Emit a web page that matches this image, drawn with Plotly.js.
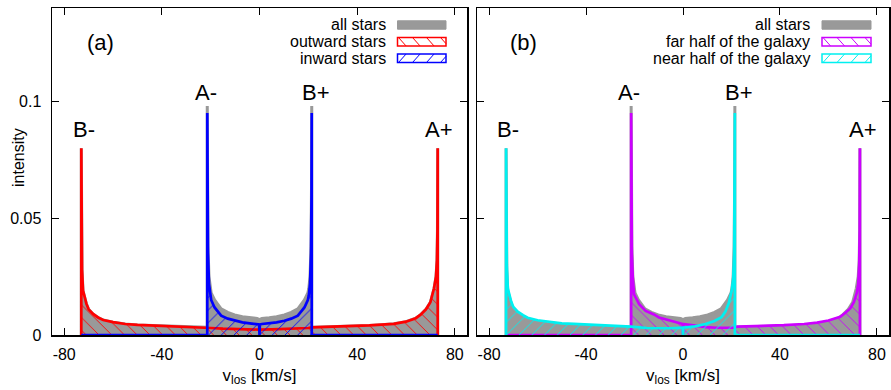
<!DOCTYPE html>
<html>
<head>
<meta charset="utf-8">
<script src="https://cdn.plot.ly/plotly-3.0.1.min.js"></script>
<style>
html,body{margin:0;padding:0;background:#fff;}
#chart{width:891px;height:390px;}
</style>
</head>
<body>
<div id="chart"></div>
<script>
// ---------- data ----------
const xTickVals = [-80, -40, 0, 40, 80];
const xTickText = ['-80', '-40', '0', '40', '80'];
const yTickVals = [0, 0.05, 0.1];
const yTickText = ['0', '0.05', '0.1'];

// panel (a): all stars
const vAll = [-73, -73, -72.9, -72.7, -72.3, -71.5, -70.9, -70, -68.2, -66, -64, -60, -55, -50, -45, -40, -35, -30, -25, -21.4,
  -21.4, -21.3, -21.1, -20.7, -20.2, -19.8, -18.4, -17, -15.7, -13, -10.2, -7, -4, -1, 0, 1, 4, 7, 10.2, 13, 15.7, 17, 18.4, 19.8, 20.2, 20.7, 21.1, 21.3, 21.4,
  21.4, 25, 30, 35, 40, 45, 50, 55, 60, 64, 66, 68.2, 70, 70.9, 71.5, 72.3, 72.7, 72.9, 73, 73];
const allStars = [0, 0.080, 0.045, 0.028, 0.019, 0.015, 0.0133, 0.011, 0.009, 0.0074, 0.0064, 0.0055, 0.0047, 0.0043, 0.0041, 0.0039, 0.0037, 0.0035, 0.0034, 0.0033,
  0.098, 0.063, 0.038, 0.025, 0.020, 0.018, 0.0150, 0.0128, 0.0112, 0.0097, 0.0086, 0.0078, 0.0074, 0.0071, 0.0066, 0.0071, 0.0074, 0.0078, 0.0086, 0.0097, 0.0112, 0.0128, 0.0150, 0.018, 0.020, 0.025, 0.038, 0.063, 0.098,
  0.0033, 0.0034, 0.0035, 0.0037, 0.0039, 0.0041, 0.0044, 0.0048, 0.0057, 0.0072, 0.0087, 0.011, 0.014, 0.017, 0.020, 0.025, 0.032, 0.045, 0.080, 0];

// panel (a): outward stars
const vOut = [-73, -73, -72.9, -72.7, -72.3, -71.5, -70.9, -70, -68.2, -66, -64, -60, -55, -50, -45, -40, -35, -30, -25, -21.4,
  -20, -15, -10, -5, 0, 5, 10, 15, 20,
  21.4, 25, 30, 35, 40, 45, 50, 55, 60, 64, 66, 68.2, 70, 70.9, 71.5, 72.3, 72.7, 72.9, 73, 73];
const outward = [0, 0.080, 0.045, 0.028, 0.019, 0.015, 0.0133, 0.011, 0.009, 0.0074, 0.0064, 0.0055, 0.0047, 0.0043, 0.0041, 0.0039, 0.0037, 0.0035, 0.0034, 0.0033,
  0.0030, 0.0027, 0.0025, 0.0024, 0.0023, 0.0024, 0.0025, 0.0027, 0.0030,
  0.0033, 0.0034, 0.0035, 0.0037, 0.0039, 0.0041, 0.0044, 0.0048, 0.0057, 0.0072, 0.0087, 0.011, 0.014, 0.017, 0.020, 0.025, 0.032, 0.045, 0.080, 0];

// panel (a): inward stars
const vIn = [-73, -21.4, -21.4, -21.3, -21.1, -20.7, -20.2, -19.8, -18.4, -17, -15.7, -13, -10.2, -7, -4, -1, -0.15, 0, 0.15, 1, 4, 7, 10.2, 13, 15.7, 17, 18.4, 19.8, 20.2, 20.7, 21.1, 21.3, 21.4, 21.4, 73];
const inward = [0, 0, 0.095, 0.060, 0.035, 0.022, 0.017, 0.015, 0.0118, 0.0098, 0.0083, 0.0070, 0.0061, 0.0054, 0.0050, 0.0047, 0.0045, 0, 0.0045, 0.0047, 0.0050, 0.0054, 0.0061, 0.0070, 0.0083, 0.0098, 0.0118, 0.015, 0.017, 0.022, 0.035, 0.060, 0.095, 0, 0];

// panel (b): far half of the galaxy
const vFar = [-73, -21.4, -21.4, -21.3, -21.1, -20.7, -20.2, -19, -18.1, -15.4, -12, -9.9, -5, -0.15, 0, 0.15, 5, 9.3, 14, 18.9, 21.4, 22.4, 30, 41.6, 50, 55.3, 60, 64.9, 67, 69, 70.5, 71.7, 72.3, 72.7, 72.9, 73, 73];
const farHalf = [0, 0, 0.095, 0.060, 0.035, 0.024, 0.0174, 0.0150, 0.0132, 0.0103, 0.0088, 0.0075, 0.0060, 0.0047, 0, 0.0047, 0.0040, 0.0034, 0.0031, 0.0029, 0.0031, 0.0036, 0.0038, 0.0042, 0.0047, 0.0053, 0.0062, 0.0078, 0.0095, 0.0114, 0.014, 0.018, 0.022, 0.030, 0.045, 0.080, 0];

// panel (b): near half of the galaxy
const vNear = [-73, -73, -72.9, -72.7, -72.3, -71.5, -70.9, -70, -68.2, -66, -64.1, -60, -54.4, -50, -45, -40.7, -35, -30, -25, -21.4, -15, -10, -5, -0.15, 0, 0.15, 5, 9.3, 13, 15.9, 17.5, 18.9, 20.1, 20.7, 21.1, 21.3, 21.4, 21.4, 73];
const nearHalf = [0, 0.080, 0.045, 0.030, 0.020, 0.016, 0.0143, 0.012, 0.010, 0.0085, 0.0074, 0.0063, 0.0054, 0.0050, 0.0048, 0.0046, 0.0043, 0.0041, 0.0039, 0.0036, 0.0030, 0.0028, 0.0029, 0.0031, 0, 0.0031, 0.0037, 0.0047, 0.0060, 0.0076, 0.0100, 0.0137, 0.019, 0.024, 0.035, 0.060, 0.095, 0, 0];

// ---------- styling ----------
const W = 891, H = 390;
const px = x => x / W;
const py = y => 1 - y / H;
const FONT = 'Liberation Sans, Arial, Helvetica, sans-serif';
const GRAY = '#999999', RED = '#ff0000', BLUE = '#0000ff', VIOLET = '#cc00ff', CYAN = '#00f0f0';

function areaTrace(x, y, color, width, xa, ya, pattern) {
  const t = {x: x, y: y, type: 'scatter', mode: 'lines', xaxis: xa, yaxis: ya,
    line: {color: color, width: width}, fill: 'tozeroy', showlegend: false, hoverinfo: 'skip'};
  if (pattern) {
    t.fillcolor = 'rgba(0,0,0,0)';
    t.fillpattern = {shape: pattern, fgcolor: color, bgcolor: 'rgba(0,0,0,0)', size: 9, solidity: 0.1, fillmode: 'replace'};
  } else {
    t.fillcolor = color;
  }
  return t;
}

const data = [
  areaTrace(vAll, allStars, GRAY, 3, 'x', 'y'),
  areaTrace(vOut, outward, RED, 2.7, 'x', 'y', '\\'),
  areaTrace(vIn, inward, BLUE, 2.7, 'x', 'y', '/'),
  areaTrace(vAll, allStars, GRAY, 3, 'x2', 'y2'),
  areaTrace(vFar, farHalf, VIOLET, 2.7, 'x2', 'y2', '\\'),
  areaTrace(vNear, nearHalf, CYAN, 2.7, 'x2', 'y2', '/')
];

function xAxis(domain, anchor) {
  return {domain: domain, anchor: anchor, range: [-85, 85], tickvals: xTickVals, ticktext: xTickText,
    ticks: 'inside', ticklen: 7, tickwidth: 1, tickcolor: '#000', showline: true, linecolor: '#000', linewidth: 1.5,
    mirror: 'ticks', showgrid: false, zeroline: false, layer: 'below traces', ticklabelstandoff: 4,
    tickfont: {family: FONT, size: 16, color: '#000'},
    title: {text: 'v<sub>los</sub> [km/s]', font: {family: FONT, size: 17, color: '#000'}, standoff: 7}};
}
function yAxis(anchor, labels) {
  return {domain: [py(335), py(8)], anchor: anchor, range: [0, 0.14], tickvals: yTickVals, ticktext: yTickText,
    showticklabels: labels, ticks: 'inside', ticklen: 7, tickwidth: 1, tickcolor: '#000', showline: true, linecolor: '#000',
    linewidth: 1.5, mirror: 'ticks', showgrid: false, zeroline: false, layer: 'below traces', ticklabelstandoff: 6,
    tickfont: {family: FONT, size: 16, color: '#000'}};
}

const annotations = [];
const shapes = [];
function label(text, xref, yref, x, y, size) {
  annotations.push({text: text, xref: xref, yref: yref, x: x, y: y, showarrow: false,
    xanchor: 'center', yanchor: 'middle', font: {family: FONT, size: size, color: '#000'}});
}
// peak labels
label('B-', 'x', 'y', -72, 0.088, 22);
label('A-', 'x', 'y', -21.8, 0.104, 22);
label('B+', 'x', 'y', 23.2, 0.104, 22);
label('A+', 'x', 'y', 73.7, 0.088, 22);
label('B-', 'x2', 'y2', -72.1, 0.088, 22);
label('A-', 'x2', 'y2', -22.1, 0.104, 22);
label('B+', 'x2', 'y2', 23.0, 0.104, 22);
label('A+', 'x2', 'y2', 74.2, 0.088, 22);
// panel tags
label('(a)', 'paper', 'paper', px(100), py(42.5), 22);
label('(b)', 'paper', 'paper', px(523.5), py(42.5), 22);
// y-axis title
annotations.push({text: 'intensity', xref: 'paper', yref: 'paper', x: px(18), y: py(158), textangle: -90,
  showarrow: false, xanchor: 'center', yanchor: 'middle', font: {family: FONT, size: 16, color: '#000'}});

// gnuplot-style keys: text right-aligned, swatch to its right
function key(textRight, sx0, sx1, entries) {
  const rows = [25, 41.7, 58.3];
  entries.forEach((e, i) => {
    const cy = rows[i];
    annotations.push({text: e.text, xref: 'paper', yref: 'paper', x: px(textRight), y: py(cy), showarrow: false,
      xanchor: 'right', yanchor: 'middle', font: {family: FONT, size: 16, color: '#000'}});
    const y0 = cy - 4.2, y1 = cy + 4.2;
    if (!e.pattern) {
      shapes.push({type: 'rect', xref: 'paper', yref: 'paper', x0: px(sx0), x1: px(sx1), y0: py(y1), y1: py(y0),
        fillcolor: e.color, line: {color: e.color, width: 1}});
    } else {
      shapes.push({type: 'rect', xref: 'paper', yref: 'paper', x0: px(sx0), x1: px(sx1), y0: py(y1), y1: py(y0),
        fillcolor: 'rgba(0,0,0,0)', line: {color: e.color, width: 1.5}});
      let path = '';
      const dx = 7.5;
      for (let xs = sx0 + 1; xs < sx1 - 1; xs += 14) {
        const xe = Math.min(xs + dx, sx1);
        const fy = (xe - xs) / dx;
        if (e.pattern === '\\') {
          path += `M${px(xs)},${py(y0)} L${px(xe)},${py(y0 + fy * (y1 - y0))} `;
        } else {
          path += `M${px(xs)},${py(y1)} L${px(xe)},${py(y1 - fy * (y1 - y0))} `;
        }
      }
      shapes.push({type: 'path', xref: 'paper', yref: 'paper', path: path, line: {color: e.color, width: 1}});
    }
  });
}
key(387.7, 397.5, 446, [
  {text: 'all stars', color: GRAY},
  {text: 'outward stars', color: RED, pattern: '\\'},
  {text: 'inward stars', color: BLUE, pattern: '/'}
]);
key(811.7, 822, 871, [
  {text: 'all stars', color: GRAY},
  {text: 'far half of the galaxy', color: VIOLET, pattern: '\\'},
  {text: 'near half of the galaxy', color: CYAN, pattern: '/'}
]);

const layout = {
  width: W, height: H,
  margin: {l: 0, r: 0, t: 0, b: 0, pad: 0},
  paper_bgcolor: '#fff', plot_bgcolor: '#fff',
  showlegend: false,
  font: {family: FONT, size: 16, color: '#000'},
  xaxis: xAxis([px(52), px(467)], 'y'),
  yaxis: yAxis('x', true),
  xaxis2: xAxis([px(477), px(889)], 'y2'),
  yaxis2: yAxis('x2', false),
  annotations: annotations,
  shapes: shapes
};

Plotly.newPlot('chart', data, layout, {displayModeBar: false, staticPlot: true});
</script>
</body>
</html>
